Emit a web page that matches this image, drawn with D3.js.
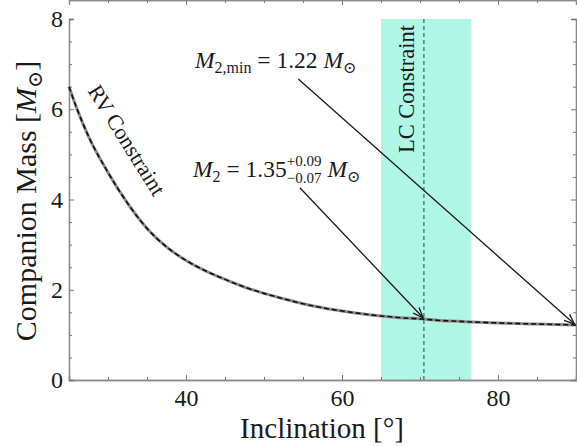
<!DOCTYPE html>
<html>
<head>
<meta charset="utf-8">
<script src="https://cdn.jsdelivr.net/npm/d3@7"></script>
<style>
  body { margin: 0; background: #fff; }
  text { font-family: "Liberation Serif", "DejaVu Serif", serif; fill: #1a1a1a; }
</style>
</head>
<body>
<div id="chart"></div>
<script>
// RV constraint curve
const inclination = [25, 26, 27.5, 30, 32.5, 35, 37.5, 40, 42.5, 45, 47.5, 50, 52.5, 55, 57.5, 60, 62.5, 65, 67.5, 70, 72.5, 75, 77.5, 80, 82.5, 85, 87.5, 90];
const companionMass = [6.5, 6.02, 5.4, 4.6, 3.92, 3.36, 2.95, 2.65, 2.42, 2.23, 2.06, 1.92, 1.8, 1.69, 1.6, 1.53, 1.47, 1.42, 1.38, 1.355, 1.32, 1.3, 1.28, 1.265, 1.25, 1.24, 1.23, 1.22];

// LC constraint band and best value
const lcBand = [65.0, 76.6];
const lcBest = 70.5;

// arrows [inclination, mass] from -> to
const minMassArrow = [[54.4, 6.67], [89.8, 1.24]];
const bestMassArrow = [[54.6, 4.26], [70.4, 1.38]];

const xMajor = [40, 60, 80];
const xMinor = [30, 35, 45, 50, 55, 65, 70, 75, 85];
const yMajor = [0, 2, 4, 6, 8];
const yMinor = [0.5, 1, 1.5, 2.5, 3, 3.5, 4.5, 5, 5.5, 6.5, 7, 7.5];

var W = 577, H = 446;
var FONT = "'Liberation Serif', 'DejaVu Serif', serif";
var margin = {top: 19, right: 1, bottom: 66, left: 69},
    width = W - margin.left - margin.right,
    height = H - margin.top - margin.bottom;

var svg = d3.select("#chart")
    .append("svg")
    .attr("width", W)
    .attr("height", H);

var x = d3.scaleLinear().domain([25, 90]).range([margin.left, margin.left + width]);
var y = d3.scaleLinear().domain([0, 8]).range([margin.top + height, margin.top]);

// LC band
svg.append("rect")
    .attr("x", x(lcBand[0]))
    .attr("y", y(8))
    .attr("width", x(lcBand[1]) - x(lcBand[0]))
    .attr("height", y(0) - y(8))
    .attr("fill", "#b0f6e4");

svg.append("line")
    .attr("x1", x(lcBest)).attr("x2", x(lcBest))
    .attr("y1", y(0)).attr("y2", y(8))
    .attr("stroke", "#1c6f82")
    .attr("stroke-width", 1.2)
    .attr("stroke-dasharray", "4,3");

// axes: ticks point inward on all four sides
function axis(gen, ticks, size, tx, ty, labels) {
    var g = svg.append("g")
        .attr("transform", "translate(" + tx + "," + ty + ")")
        .call(gen.tickValues(ticks).tickSize(size).tickPadding(9)
            .tickFormat(labels ? d3.format("d") : ""))
        .attr("font-family", FONT)
        .attr("font-size", 24);
    g.select(".domain").attr("stroke", "#8a8a8a").attr("stroke-width", 1.3);
    g.selectAll(".tick line").attr("stroke", "#777");
    g.selectAll(".tick text")
        .style("font-size", "24px")
        .style("font-family", FONT)
        .attr("fill", "#1a1a1a");
    return g;
}
var bottom = y(0), top = y(8), left = x(25), right = x(90);
axis(d3.axisBottom(x), xMinor, -3, 0, bottom, false);
axis(d3.axisBottom(x), xMajor, -5, 0, bottom, true);
axis(d3.axisTop(x), xMinor, -3, 0, top, false);
axis(d3.axisTop(x), xMajor, -5, 0, top, false);
axis(d3.axisLeft(y), yMinor, -3, left, 0, false);
axis(d3.axisLeft(y), yMajor, -5, left, 0, true).selectAll(".tick text").attr("x", -6);
axis(d3.axisRight(y), yMinor, -3, right, 0, false);
axis(d3.axisRight(y), yMajor, -5, right, 0, false);

// RV curve: grey body with black dashes on top
var line = d3.line()
    .x(function(d, i) { return x(inclination[i]); })
    .y(function(d) { return y(d); })
    .curve(d3.curveMonotoneX);

svg.append("path")
    .attr("d", line(companionMass))
    .attr("fill", "none")
    .attr("stroke", "#8c8c8c")
    .attr("stroke-width", 3);
svg.append("path")
    .attr("d", line(companionMass))
    .attr("fill", "none")
    .attr("stroke", "#111")
    .attr("stroke-width", 1.6)
    .attr("stroke-dasharray", "5,3");

// arrows
function arrow(pts) {
    var x1 = x(pts[0][0]), y1 = y(pts[0][1]), x2 = x(pts[1][0]), y2 = y(pts[1][1]);
    var a = Math.atan2(y2 - y1, x2 - x1), L = 11, th = 0.38;
    svg.append("line")
        .attr("x1", x1).attr("y1", y1).attr("x2", x2).attr("y2", y2)
        .attr("stroke", "#1a1a1a").attr("stroke-width", 1.3);
    svg.append("path")
        .attr("d", "M" + (x2 - L * Math.cos(a - th)) + "," + (y2 - L * Math.sin(a - th)) +
            "L" + x2 + "," + y2 +
            "L" + (x2 - L * Math.cos(a + th)) + "," + (y2 - L * Math.sin(a + th)))
        .attr("fill", "none")
        .attr("stroke", "#1a1a1a").attr("stroke-width", 1.3);
}
arrow(minMassArrow);
arrow(bestMassArrow);

// rich text made of pieces laid out one after another
function richText(g, size, parts) {
    var cx = 0;
    parts.forEach(function(p) {
        if (p.stack) {
            var w = 0;
            p.stack.forEach(function(s) {
                var t = g.append("text")
                    .attr("x", cx).attr("y", s.dy)
                    .style("font-size", (size * 0.64) + "px")
                    .text(s.t);
                w = Math.max(w, t.node().getComputedTextLength());
            });
            cx += w;
            return;
        }
        var fs = p.small ? size * 0.68 : size;
        var t = g.append("text")
            .attr("x", cx).attr("y", p.dy || 0)
            .style("font-size", fs + "px")
            .style("font-style", p.it ? "italic" : "normal")
            .attr("xml:space", "preserve")
            .text(p.t);
        cx += t.node().getComputedTextLength();
    });
    return cx;
}

var sun = "\u2299";

var g1 = svg.append("g").attr("transform", "translate(195,68)");
richText(g1, 23.5, [
    {t: "M", it: true}, {t: "2,min", small: true, dy: 5},
    {t: " = 1.22 "}, {t: "M", it: true}, {t: sun, small: true, dy: 5}
]);

var g2 = svg.append("g").attr("transform", "translate(193,177)");
richText(g2, 23.5, [
    {t: "M", it: true}, {t: "2", small: true, dy: 5},
    {t: " = 1.35"}, {stack: [{t: "+0.09", dy: -11}, {t: "\u22120.07", dy: 6}]},
    {t: " "}, {t: "M", it: true}, {t: sun, small: true, dy: 5}
]);

// constraint labels
svg.append("text")
    .attr("transform", "translate(127,140) rotate(58)")
    .attr("text-anchor", "middle")
    .attr("dy", "0.35em")
    .style("font-size", "22px")
    .text("RV Constraint");

svg.append("text")
    .attr("transform", "translate(406,89) rotate(-90)")
    .attr("text-anchor", "middle")
    .attr("dy", "0.35em")
    .style("font-size", "22.5px")
    .text("LC Constraint");

// axis titles
var gx = svg.append("g");
var wx = richText(gx, 29, [{t: "Inclination [\u00b0]"}]);
gx.attr("transform", "translate(" + (322 - wx / 2) + ",438)");

var gy = svg.append("g");
var wy = richText(gy, 30, [{t: "Companion Mass ["}, {t: "M", it: true}, {t: sun, small: true, dy: 6}, {t: "]"}]);
gy.attr("transform", "translate(36," + (201 + wy / 2) + ") rotate(-90)");
</script>
</body>
</html>
